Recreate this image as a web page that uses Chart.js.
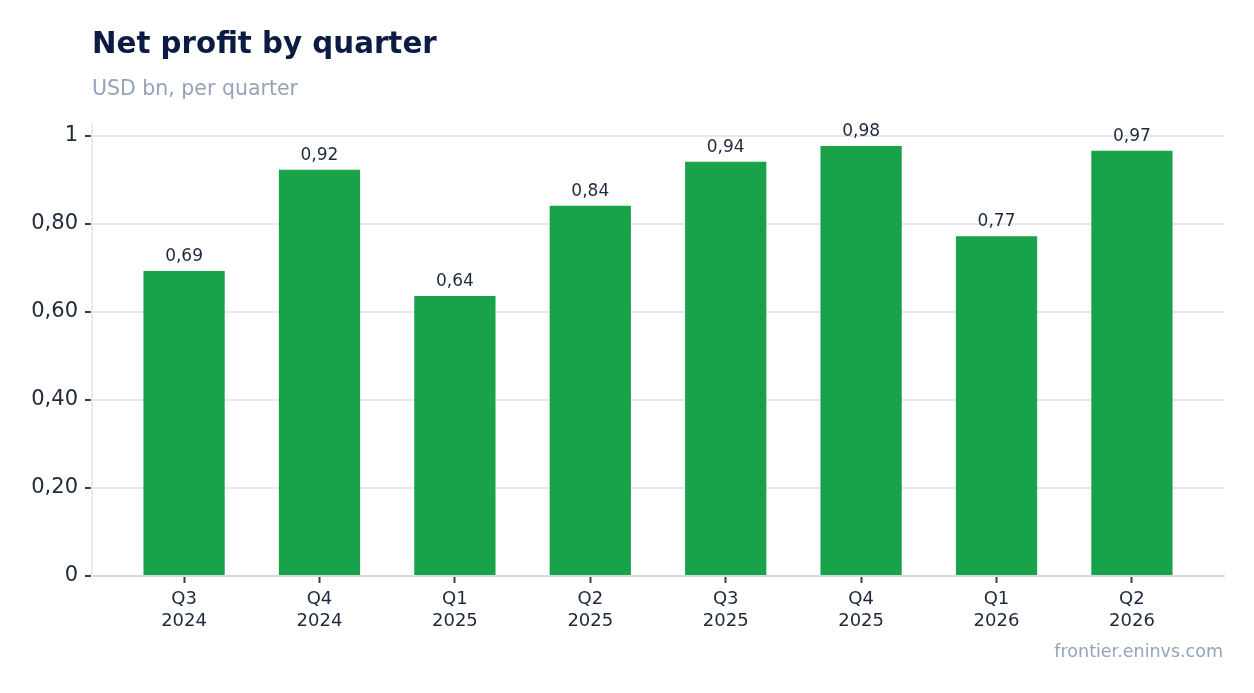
<!DOCTYPE html>
<html>
<head>
<meta charset="utf-8">
<script src="https://cdn.jsdelivr.net/npm/chart.js@4/dist/chart.umd.min.js"></script>
<style>
  html, body { margin: 0; padding: 0; background: #fff; }
  body { width: 1254px; height: 693px; position: relative; overflow: hidden; font-family: "DejaVu Sans", sans-serif; }
  #wrap { position: absolute; left: 0; top: 0; width: 1254px; height: 693px; }
  #title { position: absolute; left: 92px; top: 26px; font-size: 29.3px; font-weight: bold; color: #0c1b44; white-space: nowrap; }
  #subtitle { position: absolute; left: 92px; top: 76px; font-size: 20.5px; color: #94a3b8; white-space: nowrap; }
  #source { position: absolute; right: 31px; top: 641px; font-size: 17.5px; color: #94a3b8; white-space: nowrap; }
</style>
</head>
<body>
<div id="wrap"><canvas id="chart"></canvas></div>
<div id="title">Net profit by quarter</div>
<div id="subtitle">USD bn, per quarter</div>
<div id="source">frontier.eninvs.com</div>
<script>
// data
const quarters = ['Q3', 'Q4', 'Q1', 'Q2', 'Q3', 'Q4', 'Q1', 'Q2'];
const years = ['2024', '2024', '2025', '2025', '2025', '2025', '2026', '2026'];
const profit = [0.693, 0.923, 0.636, 0.841, 0.941, 0.977, 0.772, 0.966];
const yTicks = [0, 0.2, 0.4, 0.6, 0.8, 1];

function fmt(v, digits) {
  return v.toFixed(digits).replace('.', ',');
}

// value labels above each bar
const valueLabels = {
  id: 'valueLabels',
  afterDatasetsDraw(chart) {
    const ctx = chart.ctx;
    const meta = chart.getDatasetMeta(0);
    ctx.save();
    ctx.font = '17px "DejaVu Sans", sans-serif';
    ctx.fillStyle = '#1e293b';
    ctx.textAlign = 'center';
    ctx.textBaseline = 'bottom';
    meta.data.forEach((bar, i) => {
      ctx.fillText(fmt(profit[i], 2), bar.x, bar.y - 6);
    });
    ctx.restore();
  }
};

const ctx = document.getElementById('chart').getContext('2d');
new Chart(ctx, {
  type: 'bar',
  data: {
    datasets: [{
      data: profit.map((v, i) => ({ x: i, y: v })),
      backgroundColor: '#18a34a',
      borderWidth: 0,
      barPercentage: 0.6,
      categoryPercentage: 1
    }]
  },
  options: {
    responsive: true,
    maintainAspectRatio: false,
    animation: false,
    layout: { padding: { top: 124, right: 30, bottom: 0, left: 0 } },
    plugins: {
      legend: { display: false },
      tooltip: { enabled: false }
    },
    scales: {
      x: {
        type: 'linear',
        offset: false,
        min: -0.68,
        max: 7.68,
        afterBuildTicks: scale => {
          scale.ticks = quarters.map((q, i) => ({ value: i }));
        },
        afterFit: scale => { scale.height = 117; },
        grid: {
          offset: false,
          drawOnChartArea: false,
          tickColor: '#334155',
          tickLength: 7,
          tickWidth: 2
        },
        border: { color: '#d5d9e2', width: 2 },
        ticks: {
          padding: 6,
          color: '#1e293b',
          font: { family: '"DejaVu Sans", sans-serif', size: 18 },
          callback: v => [quarters[v], years[v]]
        }
      },
      y: {
        min: 0,
        max: 1.027,
        afterBuildTicks: scale => {
          scale.ticks = yTicks.map(v => ({ value: v }));
        },
        afterFit: scale => { scale.width = 92; },
        grid: {
          color: '#e6e9ef',
          lineWidth: 2,
          tickColor: '#334155',
          tickLength: 7,
          tickWidth: 2
        },
        border: { color: '#e6e9ef', width: 2 },
        ticks: {
          padding: 7,
          color: '#1e293b',
          font: { family: '"DejaVu Sans", sans-serif', size: 21 },
          callback: v => (v === 0 || v === 1) ? String(v) : fmt(v, 2)
        }
      }
    }
  },
  plugins: [valueLabels]
});
</script>
</body>
</html>
